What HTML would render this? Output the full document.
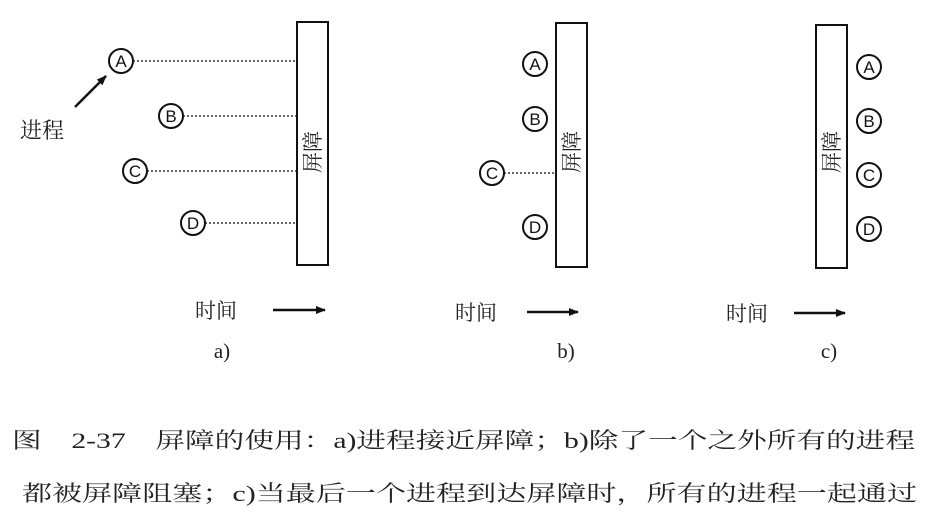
<!DOCTYPE html>
<html><head><meta charset="utf-8"><style>
html,body{margin:0;padding:0;background:#fff;width:930px;height:516px;overflow:hidden}
svg{display:block}
.cn{font-family:"Liberation Serif","Noto Serif CJK SC",serif;fill:#222}
.l{font-family:"Liberation Sans",sans-serif;font-size:17px;fill:#111;text-anchor:middle}
</style></head><body>
<svg width="930" height="516" viewBox="0 0 930 516" xmlns="http://www.w3.org/2000/svg">
<defs><marker id="ah" markerWidth="10" markerHeight="8" refX="9" refY="4" orient="auto" markerUnits="userSpaceOnUse"><path d="M0,0 L10,4 L0,8 z" fill="#111"/></marker></defs>
<g stroke="#111" stroke-width="2" fill="none">
<rect x="297" y="22" width="31" height="243"/>
<rect x="556" y="23" width="31" height="244"/>
<rect x="816" y="25" width="31" height="243"/>
</g>
<g stroke="#333" stroke-width="1.6" stroke-dasharray="2,2">
<line x1="133" y1="61" x2="296" y2="61"/>
<line x1="183" y1="116" x2="296" y2="116"/>
<line x1="147" y1="171" x2="296" y2="171"/>
<line x1="205" y1="223" x2="296" y2="223"/>
<line x1="504" y1="173" x2="555" y2="173"/>
</g>
<g stroke="#111" stroke-width="2" fill="#fff">
<circle cx="121" cy="61" r="12"/><circle cx="171" cy="116" r="12"/><circle cx="135" cy="171" r="12"/><circle cx="193" cy="223" r="12"/>
<circle cx="535" cy="64" r="12"/><circle cx="535" cy="119" r="12"/><circle cx="492" cy="173" r="12"/><circle cx="535" cy="227" r="12"/>
<circle cx="869" cy="67" r="12"/><circle cx="869" cy="121" r="12"/><circle cx="869" cy="175" r="12"/><circle cx="869" cy="229" r="12"/>
</g>
<g class="l">
<text x="121" y="67">A</text><text x="171" y="122">B</text><text x="135" y="177">C</text><text x="193" y="229">D</text>
<text x="535" y="70">A</text><text x="535" y="125">B</text><text x="492" y="179">C</text><text x="535" y="233">D</text>
<text x="869" y="73">A</text><text x="869" y="127">B</text><text x="869" y="181">C</text><text x="869" y="235">D</text>
</g>
<g stroke="#111" stroke-width="2.5" marker-end="url(#ah)">
<line x1="75" y1="107" x2="106" y2="76"/>
<line x1="273" y1="310" x2="325" y2="310"/>
<line x1="527" y1="312" x2="578" y2="312"/>
<line x1="794" y1="313" x2="845" y2="313"/>
</g>
<text class="cn" x="20" y="138" font-size="22">进程</text>
<g class="cn" font-size="21">
<text transform="translate(320,152) rotate(-90)" text-anchor="middle">屏障</text>
<text transform="translate(579,152) rotate(-90)" text-anchor="middle">屏障</text>
<text transform="translate(839,152) rotate(-90)" text-anchor="middle">屏障</text>
</g>
<g class="cn" font-size="21">
<text x="195" y="318">时间</text><text x="455" y="320">时间</text><text x="726" y="321">时间</text>
</g>
<g class="cn" font-size="21" text-anchor="middle">
<text x="222" y="358">a)</text><text x="566" y="358">b)</text><text x="829" y="358">c)</text>
</g>
<g class="cn" font-size="22">
<text x="12" y="448" textLength="903" lengthAdjust="spacingAndGlyphs">图　2-37　屏障的使用：a)进程接近屏障；b)除了一个之外所有的进程</text>
<text x="22" y="501" textLength="895" lengthAdjust="spacingAndGlyphs">都被屏障阻塞；c)当最后一个进程到达屏障时，所有的进程一起通过</text>
</g>
</svg>
</body></html>
